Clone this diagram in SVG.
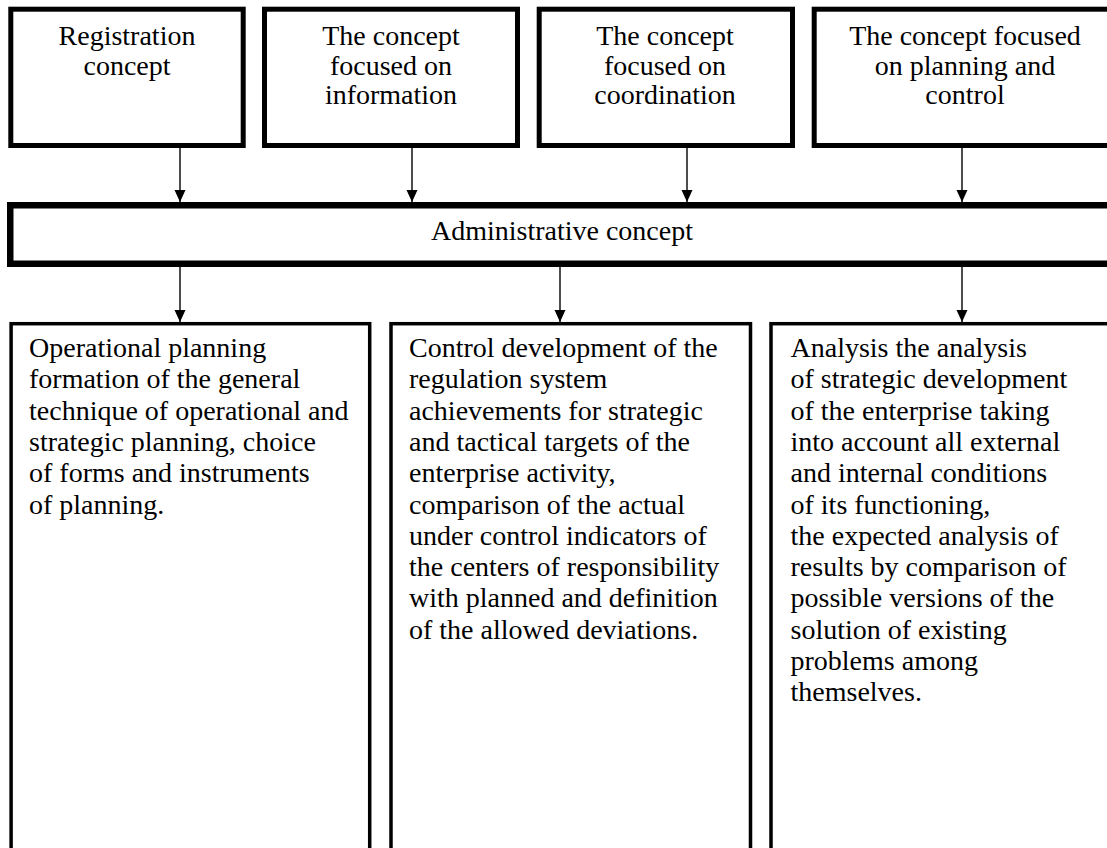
<svg xmlns="http://www.w3.org/2000/svg" width="1107" height="848" viewBox="0 0 1107 848">
<style>
  .top { fill: #fff; stroke: #000; stroke-width: 5; }
  .adm { fill: #fff; stroke: #000; stroke-width: 6.5; }
  .bot { fill: #fff; stroke: #000; stroke-width: 3.5; }
  text { font-family: "Liberation Serif", "Times New Roman", serif; font-size: 28px; fill: #000; }
  .c { text-anchor: middle; }
  .conn line { stroke: #000; stroke-width: 1.4; fill: none; marker-end: url(#arr); }
</style>
<defs>
  <marker id="arr" viewBox="0 0 12 12" refX="12" refY="6" markerWidth="12" markerHeight="12" markerUnits="userSpaceOnUse" orient="auto">
    <path d="M0,0.5 L12,6 L0,11.5 Z" fill="#000"/>
  </marker>
</defs>
<rect width="1107" height="848" fill="#fff"/>

<g id="registration">
  <rect class="top" x="10.8" y="9.2" width="232.4" height="136.3"/>
  <text class="c" x="127" y="45">Registration</text>
  <text class="c" x="127" y="74.5">concept</text>
</g>
<g id="information">
  <rect class="top" x="264.5" y="9.2" width="253" height="136.3"/>
  <text class="c" x="391" y="45">The concept</text>
  <text class="c" x="391" y="74.5">focused on</text>
  <text class="c" x="391" y="104">information</text>
</g>
<g id="coordination">
  <rect class="top" x="539.2" y="9.2" width="253.3" height="136.3"/>
  <text class="c" x="665" y="45">The concept</text>
  <text class="c" x="665" y="74.5">focused on</text>
  <text class="c" x="665" y="104">coordination</text>
</g>
<g id="planning-control">
  <rect class="top" x="814.2" y="9.2" width="302" height="136.3"/>
  <text class="c" x="965" y="45">The concept focused</text>
  <text class="c" x="965" y="74.5">on planning and</text>
  <text class="c" x="965" y="104">control</text>
</g>

<g id="administrative">
  <rect class="adm" x="10.25" y="205.25" width="1110" height="58.5"/>
  <text class="c" x="562" y="240">Administrative concept</text>
</g>

<g id="operational-planning">
  <rect class="bot" x="11.1" y="323.7" width="358.6" height="540"/>
  <text x="29" y="357">Operational planning</text>
  <text x="29" y="388.3">formation of the general</text>
  <text x="29" y="419.6">technique of operational and</text>
  <text x="29" y="450.9">strategic planning, choice</text>
  <text x="29" y="482.2">of forms and instruments</text>
  <text x="29" y="513.5">of planning.</text>
</g>
<g id="control">
  <rect class="bot" x="391" y="323.7" width="359.5" height="540"/>
  <text x="409" y="357">Control development of the</text>
  <text x="409" y="388.3">regulation system</text>
  <text x="409" y="419.6">achievements for strategic</text>
  <text x="409" y="450.9">and tactical targets of the</text>
  <text x="409" y="482.2">enterprise activity,</text>
  <text x="409" y="513.5">comparison of the actual</text>
  <text x="409" y="544.8">under control indicators of</text>
  <text x="409" y="576.1">the centers of responsibility</text>
  <text x="409" y="607.4">with planned and definition</text>
  <text x="409" y="638.7">of the allowed deviations.</text>
</g>
<g id="analysis">
  <rect class="bot" x="771" y="323.7" width="360" height="540"/>
  <text x="790.5" y="357">Analysis the analysis</text>
  <text x="790.5" y="388.3">of strategic development</text>
  <text x="790.5" y="419.6">of the enterprise taking</text>
  <text x="790.5" y="450.9">into account all external</text>
  <text x="790.5" y="482.2">and internal conditions</text>
  <text x="790.5" y="513.5">of its functioning,</text>
  <text x="790.5" y="544.8">the expected analysis of</text>
  <text x="790.5" y="576.1">results by comparison of</text>
  <text x="790.5" y="607.4">possible versions of the</text>
  <text x="790.5" y="638.7">solution of existing</text>
  <text x="790.5" y="670">problems among</text>
  <text x="790.5" y="701.3">themselves.</text>
</g>

<g id="connectors" class="conn">
  <line x1="180" y1="148" x2="180" y2="202"/>
  <line x1="412" y1="148" x2="412" y2="202"/>
  <line x1="687" y1="148" x2="687" y2="202"/>
  <line x1="962" y1="148" x2="962" y2="202"/>
  <line x1="180" y1="267" x2="180" y2="322"/>
  <line x1="560" y1="267" x2="560" y2="322"/>
  <line x1="962" y1="267" x2="962" y2="322"/>
</g>
</svg>
